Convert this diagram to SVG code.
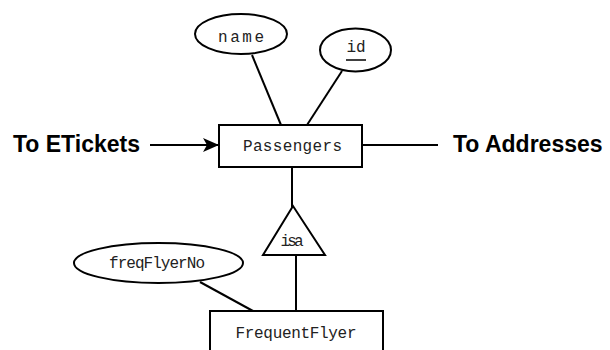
<svg xmlns="http://www.w3.org/2000/svg" width="610" height="350" viewBox="0 0 610 350">
<style>
.shape{fill:#fff;stroke:#000;stroke-width:2}
.conn line{stroke:#000;stroke-width:2}
.lbl{font-family:"Liberation Mono","Courier New",monospace;font-size:16px;fill:#222;text-anchor:middle}
.ext{font-family:"Liberation Sans",Arial,sans-serif;font-size:23px;font-weight:bold;fill:#000}
</style>
<defs>
<marker id="arr" viewBox="0 0 16 14" refX="16" refY="7" markerWidth="16" markerHeight="14" markerUnits="userSpaceOnUse" orient="auto">
<path d="M0,0 L16,7 L0,14 L4,7 Z" fill="#000"/>
</marker>
</defs>
<g id="connectors" class="conn">
<line x1="252" y1="55" x2="281" y2="125"/>
<line x1="342" y1="71" x2="307" y2="125"/>
<line x1="292" y1="167" x2="292" y2="207"/>
<line x1="296" y1="255" x2="296" y2="311"/>
<line x1="200" y1="282" x2="253" y2="311"/>
<line x1="150" y1="145" x2="219" y2="145" marker-end="url(#arr)"/>
<line x1="362" y1="145" x2="438" y2="145"/>
</g>
<g id="name">
<ellipse class="shape" cx="241" cy="34" rx="46" ry="20"/>
<text class="lbl" x="241" y="42" textLength="46">name</text>
</g>
<g id="id">
<ellipse class="shape" cx="355.5" cy="50" rx="35.5" ry="21.5"/>
<text class="lbl" x="356" y="52">id</text>
<line x1="346" y1="60" x2="366" y2="60" stroke="#000" stroke-width="1.5"/>
</g>
<g id="passengers">
<rect class="shape" x="219" y="125" width="143" height="42"/>
<text class="lbl" x="292.5" y="151" textLength="99">Passengers</text>
</g>
<g id="isa">
<polygon class="shape" points="293,206 263,255 325,255"/>
<text class="lbl" x="292" y="246" font-size="15" textLength="23">isa</text>
</g>
<g id="freqFlyerNo">
<ellipse class="shape" cx="158.5" cy="263" rx="84.5" ry="20"/>
<text class="lbl" x="157" y="268" textLength="96">freqFlyerNo</text>
</g>
<g id="frequentFlyer">
<rect class="shape" x="210" y="311" width="173" height="45"/>
<text class="lbl" x="296" y="338" textLength="121">FrequentFlyer</text>
</g>
<g id="toETickets">
<text class="ext" x="13" y="152">To ETickets</text>
</g>
<g id="toAddresses">
<text class="ext" x="453" y="152">To Addresses</text>
</g>
</svg>
